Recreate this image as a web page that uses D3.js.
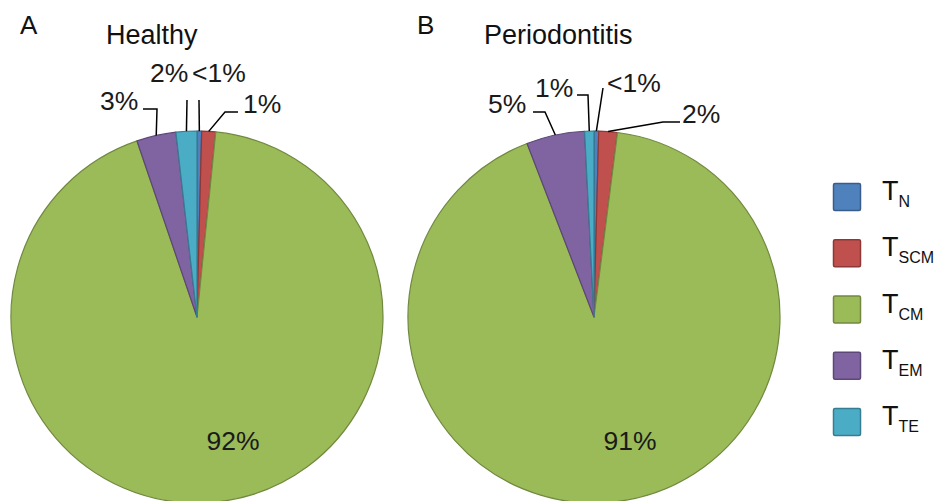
<!DOCTYPE html>
<html>
<head>
<meta charset="utf-8">
<script src="https://cdn.jsdelivr.net/npm/d3@7"></script>
<style>
  body { margin: 0; background: #fff; }
  svg { display: block; font-family: "Liberation Sans", Arial, sans-serif; }
</style>
</head>
<body>
<svg id="chart" width="935" height="501"></svg>
<script>
// cell subsets, in the order they are drawn clockwise from 12 o'clock
let subsets = ['N', 'SCM', 'CM', 'EM', 'TE'];
let healthyValues = [0.4, 1.2, 92.7, 3.4, 1.8];
let periodontitisValues = [0.4, 1.6, 91.2, 5.0, 0.8];
let healthyLabels = ['<1%', '1%', '92%', '3%', '2%'];
let periodontitisLabels = ['<1%', '2%', '91%', '5%', '1%'];
let panelLetters = ['A', 'B'];
let panelTitles = ['Healthy', 'Periodontitis'];

let fills = ['#4f81bd', '#c0504d', '#9bbb59', '#8064a2', '#4bacc6'];
let strokes = ['#385d8a', '#8c3836', '#71893f', '#5c4776', '#357d91'];

let svg = d3.select('#chart');
let radius = 186;

// where each label sits (relative to the pie centre) and the elbows of its leader line
let layouts = [
  {
    cx: 197, cy: 317,
    text: [[-5, -235], [46, -204], [36, 133], [-97, -207], [-47, -235]],
    leader: [[[2, -217]], [[28, -205], [41, -205]], null, [[-40, -208], [-54, -208]], [[-10, -217]]]
  },
  {
    cx: 594, cy: 317,
    text: [[13, -225], [88, -194], [36, 133], [-106, -204], [-59, -220]],
    leader: [[[9, -229]], [[69, -195], [86, -195]], null, [[-49, -205], [-61, -205]], [[-6, -222], [-17, -222]]]
  }
];

let pie = d3.pie().sort(null).startAngle(0).endAngle(2 * Math.PI);
let arc = d3.arc().innerRadius(0).outerRadius(radius);

function drawPie(values, labels, lay, letter, title, letterX, titleX) {
  let g = svg.append('g').attr('transform', 'translate(' + lay.cx + ',' + lay.cy + ')');
  let arcs = pie(values);

  g.selectAll('path')
   .data(arcs)
   .enter()
   .append('path')
   .attr('d', arc)
   .attr('fill', function(d, i) { return fills[i]; })
   .attr('stroke', function(d, i) { return strokes[i]; })
   .attr('stroke-width', 1.2)
   .attr('stroke-linejoin', 'round');

  arcs.forEach(function(d, i) {
    let t = lay.text[i];
    if (lay.leader[i]) {
      let a = (d.startAngle + d.endAngle) / 2;
      let pts = [[radius * Math.sin(a), -radius * Math.cos(a)]].concat(lay.leader[i]);
      g.append('path')
       .attr('d', d3.line()(pts))
       .attr('fill', 'none')
       .attr('stroke', '#000')
       .attr('stroke-width', 1.5);
    }
    g.append('text')
     .attr('x', t[0]).attr('y', t[1])
     .attr('text-anchor', lay.leader[i] ? 'start' : 'middle')
     .attr('font-size', 26.5)
     .attr('fill', '#1a1a1a')
     .text(labels[i]);
  });

  svg.append('text').attr('x', letterX).attr('y', 34).attr('font-size', 26).attr('fill', '#111').text(letter);
  svg.append('text').attr('x', titleX).attr('y', 44).attr('font-size', 27).attr('fill', '#111').text(title);
}

drawPie(healthyValues, healthyLabels, layouts[0], panelLetters[0], panelTitles[0], 20, 106);
drawPie(periodontitisValues, periodontitisLabels, layouts[1], panelLetters[1], panelTitles[1], 417, 484);

// legend
let y = d3.scalePoint().domain(subsets).range([183, 408]);
let legend = svg.append('g').selectAll('g')
  .data(subsets)
  .enter()
  .append('g')
  .attr('transform', function(d) { return 'translate(833,' + y(d) + ')'; });

legend.append('rect')
  .attr('x', 0.5).attr('y', 0.5)
  .attr('width', 27).attr('height', 27)
  .attr('rx', 1.5)
  .attr('fill', function(d, i) { return fills[i]; })
  .attr('stroke', function(d, i) { return strokes[i]; })
  .attr('stroke-width', 1.5);

let lt = legend.append('text')
  .attr('x', 49).attr('y', 17)
  .attr('font-size', 27)
  .attr('fill', '#111');
lt.append('tspan').text('T');
lt.append('tspan')
  .attr('font-size', 16)
  .attr('dy', 7)
  .text(function(d) { return d; });
</script>
</body>
</html>
